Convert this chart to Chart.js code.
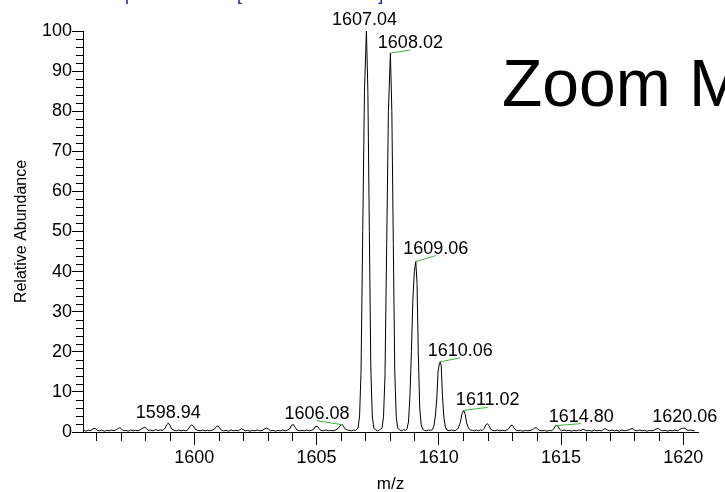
<!DOCTYPE html>
<html>
<head>
<meta charset="utf-8">
<script src="https://cdn.jsdelivr.net/npm/chart.js@4.4.1/dist/chart.umd.min.js"></script>
<style>
  html, body { margin: 0; padding: 0; background: #fff; }
  canvas { display: block; }
</style>
</head>
<body>
<canvas id="spectrumChart" width="725" height="492"></canvas>
<script>
// profile points: [m/z, relative abundance]
const spectrum = [
  [1595.50,0.4],[1595.58,0.2],[1595.66,0.5],[1595.74,0.3],[1595.82,0.6],[1595.90,0.9],[1595.96,0.8],[1596.04,0.4],
  [1596.12,0.3],[1596.22,0.5],[1596.32,0.2],[1596.42,0.4],[1596.52,0.3],[1596.62,0.5],[1596.72,0.3],[1596.82,0.6],
  [1596.90,0.9],[1596.96,1.1],[1597.02,0.8],[1597.10,0.3],[1597.20,0.4],[1597.30,0.2],[1597.40,0.5],[1597.50,0.3],
  [1597.60,0.4],[1597.70,0.3],[1597.80,0.6],[1597.90,1.0],[1597.98,1.2],[1598.04,0.9],[1598.12,0.4],[1598.22,0.5],
  [1598.32,0.3],[1598.42,0.6],[1598.52,0.4],[1598.62,0.5],[1598.72,0.4],[1598.80,0.9],[1598.87,1.8],[1598.94,2.2],
  [1599.00,1.7],[1599.07,0.8],[1599.16,0.5],[1599.26,0.3],[1599.36,0.5],[1599.46,0.3],[1599.56,0.4],[1599.66,0.3],
  [1599.74,0.6],[1599.82,1.3],[1599.89,1.8],[1599.96,1.5],[1600.04,0.7],[1600.14,0.4],[1600.24,0.3],[1600.34,0.5],
  [1600.44,0.3],[1600.54,0.4],[1600.64,0.3],[1600.74,0.5],[1600.84,0.8],[1600.91,1.4],[1600.97,1.5],[1601.03,1.1],
  [1601.10,0.5],[1601.20,0.3],[1601.30,0.4],[1601.40,0.2],[1601.50,0.5],[1601.60,0.3],[1601.70,0.4],[1601.80,0.3],
  [1601.88,0.6],[1601.94,0.8],[1602.00,0.6],[1602.08,0.3],[1602.18,0.4],[1602.28,0.2],[1602.38,0.4],[1602.48,0.3],
  [1602.58,0.5],[1602.68,0.3],[1602.78,0.4],[1602.88,0.8],[1602.96,1.0],[1603.03,0.7],[1603.12,0.3],[1603.22,0.4],
  [1603.32,0.2],[1603.42,0.4],[1603.52,0.3],[1603.62,0.5],[1603.72,0.3],[1603.82,0.5],[1603.92,0.9],[1603.98,1.7],
  [1604.06,1.8],[1604.12,1.2],[1604.20,0.5],[1604.30,0.3],[1604.40,0.4],[1604.50,0.3],[1604.60,0.5],[1604.70,0.3],
  [1604.80,0.4],[1604.90,0.8],[1604.95,1.4],[1605.04,1.4],[1605.09,0.9],[1605.18,0.4],[1605.28,0.3],[1605.38,0.5],
  [1605.48,0.3],[1605.58,0.4],[1605.68,0.3],[1605.78,0.5],[1605.88,0.9],[1605.96,1.5],[1606.04,2.0],[1606.10,1.4],
  [1606.18,0.7],[1606.26,0.5],[1606.34,0.4],[1606.44,0.3],[1606.52,0.5],[1606.60,0.4],
  // 1607.04
  [1606.70,1],[1606.76,4],[1606.82,15],[1606.89,50],[1606.96,85],[1607.04,100],[1607.10,85],[1607.16,50],
  [1607.22,16],[1607.28,4],[1607.34,1],[1607.42,0.5],[1607.50,0.3],[1607.58,0.5],
  // 1608.02
  [1607.68,1],[1607.74,3.8],[1607.80,14],[1607.87,47],[1607.94,80],[1608.02,94.5],[1608.08,80],[1608.14,47],
  [1608.20,15],[1608.26,3.8],[1608.32,1],[1608.40,0.5],[1608.48,0.3],[1608.56,0.6],[1608.64,0.4],
  // 1609.06
  [1608.70,0.8],[1608.76,2.5],[1608.82,9],[1608.88,20],[1608.94,33],[1609.00,40],[1609.06,42.5],[1609.11,37],
  [1609.16,20],[1609.22,6],[1609.28,1.8],[1609.34,0.7],[1609.42,0.4],[1609.50,0.3],[1609.58,0.5],[1609.66,0.4],
  // 1610.06
  [1609.74,0.6],[1609.80,1.5],[1609.86,4],[1609.92,8.5],[1609.97,15],[1610.02,17],[1610.06,17.5],[1610.10,16.5],
  [1610.15,9],[1610.21,3.5],[1610.27,1.2],[1610.33,0.5],[1610.42,0.3],[1610.52,0.5],[1610.62,0.3],
  // 1611.02
  [1610.72,0.5],[1610.80,1.0],[1610.88,2.4],[1610.95,4.6],[1611.02,5.4],[1611.08,4.4],[1611.14,2.2],[1611.22,0.9],
  [1611.30,0.5],[1611.38,0.4],[1611.46,0.3],[1611.54,0.5],[1611.62,0.3],[1611.70,0.5],[1611.78,0.4],[1611.86,0.9],
  [1611.93,1.8],[1611.99,2.1],[1612.05,1.6],[1612.12,0.7],[1612.20,0.4],[1612.30,0.3],[1612.40,0.5],[1612.50,0.3],
  [1612.60,0.4],[1612.70,0.3],[1612.80,0.5],[1612.88,1.0],[1612.94,1.6],[1613.00,1.7],[1613.06,1.2],[1613.14,0.5],
  [1613.24,0.3],[1613.34,0.4],[1613.44,0.2],[1613.54,0.4],[1613.64,0.3],[1613.74,0.4],[1613.84,0.6],[1613.92,1.0],
  [1613.98,1.1],[1614.04,0.8],[1614.12,0.4],[1614.22,0.3],[1614.32,0.4],[1614.42,0.2],[1614.52,0.4],[1614.62,0.3],
  [1614.70,0.8],[1614.76,1.5],[1614.82,1.6],[1614.88,1.4],[1614.94,0.7],[1615.02,0.3],[1615.12,0.5],[1615.22,0.3],
  [1615.32,0.4],[1615.42,0.2],[1615.52,0.4],[1615.62,0.3],[1615.72,0.5],[1615.82,0.4],[1615.90,0.7],[1615.98,0.5],
  [1616.06,0.3],[1616.16,0.4],[1616.26,0.2],[1616.36,0.5],[1616.46,0.3],[1616.56,0.4],[1616.66,0.3],[1616.74,0.7],
  [1616.82,0.8],[1616.90,0.5],[1616.98,0.3],[1617.08,0.5],[1617.18,0.3],[1617.28,0.4],[1617.38,0.2],[1617.48,0.5],
  [1617.58,0.3],[1617.68,0.4],[1617.78,0.5],[1617.86,0.8],[1617.94,0.8],[1618.02,0.4],[1618.12,0.3],[1618.22,0.5],
  [1618.32,0.3],[1618.42,0.4],[1618.52,0.2],[1618.62,0.4],[1618.72,0.3],[1618.82,0.5],[1618.90,0.8],[1618.98,0.9],
  [1619.06,0.5],[1619.16,0.3],[1619.26,0.4],[1619.36,0.2],[1619.46,0.4],[1619.56,0.3],[1619.66,0.5],[1619.76,0.3],
  [1619.84,0.6],[1619.92,0.9],[1619.98,0.9],[1620.06,1.0],[1620.12,0.6],[1620.20,0.4],[1620.30,0.5],[1620.40,0.3],
  [1620.46,0.4]
];

// labelled peaks
const peakMz = [1598.94, 1606.08, 1607.04, 1608.02, 1609.06, 1610.06, 1611.02, 1614.80, 1620.06];
const peakAbundance = [2.2, 1.8, 100, 94.5, 42.5, 17.5, 5.4, 1.6, 1.0];

// tick labels
const xTicks = [1600, 1605, 1610, 1615, 1620];
const yTicks = [0, 10, 20, 30, 40, 50, 60, 70, 80, 90, 100];

// where each peak label sits relative to its peak, in pixels [dx, up]
const labelShift = [[0, 5], [-26, 6], [-2, 6], [20, 5], [20, 8], [20, 6], [24, 5], [25, 4], [0, 6]];

const FONT = "Arial, 'Liberation Sans', sans-serif";
Chart.defaults.font.family = FONT;
Chart.defaults.color = '#000';

const annotate = {
  id: 'annotate',
  afterDatasetsDraw(chart) {
    const { ctx, scales: { x, y } } = chart;
    ctx.save();
    ctx.font = '18px ' + FONT;
    ctx.textAlign = 'center';
    ctx.textBaseline = 'alphabetic';
    ctx.lineWidth = 1;
    peakMz.forEach((mz, i) => {
      const px = x.getPixelForValue(mz);
      const py = y.getPixelForValue(peakAbundance[i]);
      const [dx, up] = labelShift[i];
      const tx = px + dx, ty = py - up;
      if (Math.abs(dx) > 4) {
        ctx.strokeStyle = '#3cb43c';
        ctx.beginPath();
        ctx.moveTo(px, py);
        ctx.lineTo(tx, ty + 2);
        ctx.stroke();
      }
      ctx.fillStyle = '#000';
      ctx.fillText(mz.toFixed(2), tx, ty);
    });
    ctx.restore();
  },
  afterDraw(chart) {
    const { ctx, chartArea: a, scales: { x, y } } = chart;
    ctx.save();
    // minor ticks
    ctx.strokeStyle = '#000';
    ctx.lineWidth = 1;
    ctx.beginPath();
    for (let v = Math.ceil(x.min); v <= x.max; v++) {
      if (v % 5 === 0) continue;
      const px = Math.round(x.getPixelForValue(v)) + 0.5;
      ctx.moveTo(px, a.bottom);
      ctx.lineTo(px, a.bottom + 9);
    }
    for (let v = 2; v < y.max; v += 2) {
      if (v % 10 === 0) continue;
      const py = Math.round(y.getPixelForValue(v)) + 0.5;
      ctx.moveTo(a.left - 7, py);
      ctx.lineTo(a.left, py);
    }
    ctx.stroke();

    // scan header, cut off at the top edge
    ctx.fillStyle = '#1c1cc8';
    ctx.font = '18px ' + FONT;
    ctx.textBaseline = 'alphabetic';
    ctx.textAlign = 'right';
    ctx.fillText('FTMS + p ESI Full ms ', 237, 0);
    ctx.textAlign = 'left';
    ctx.fillText('[1000.00-2000.00]', 237, 0);

    // big caption running off the right edge
    ctx.fillStyle = '#000';
    ctx.font = '66px ' + FONT;
    ctx.fillText('Zoom MS', 502, 106);
    ctx.restore();
  }
};

const ctx = document.getElementById('spectrumChart').getContext('2d');
new Chart(ctx, {
  type: 'line',
  data: {
    datasets: [{
      data: spectrum.map(p => ({ x: p[0], y: p[1] })),
      borderColor: '#000',
      borderWidth: 1,
      pointRadius: 0,
      tension: 0,
      fill: false
    }]
  },
  options: {
    responsive: false,
    animation: false,
    layout: { padding: { left: 0, top: 31, right: 27, bottom: 0 } },
    plugins: { legend: { display: false }, tooltip: { enabled: false } },
    scales: {
      x: {
        type: 'linear',
        min: 1595.45,
        max: 1620.6,
        afterBuildTicks: s => { s.ticks = xTicks.map(v => ({ value: v })); },
        afterFit: s => { s.height = 60; },
        ticks: { callback: v => String(v), padding: 2, maxRotation: 0, autoSkip: false, font: { size: 18 } },
        grid: { drawOnChartArea: false, tickLength: 13, color: '#000' },
        border: { color: '#000', width: 1 },
        title: { display: true, text: 'm/z', font: { size: 17 }, padding: { top: 0, bottom: -3 } }
      },
      y: {
        min: 0,
        max: 100,
        afterBuildTicks: s => { s.ticks = yTicks.map(v => ({ value: v })); },
        afterFit: s => { s.width = 83; },
        ticks: { callback: v => String(v), padding: 0, autoSkip: false, font: { size: 18 } },
        grid: { drawOnChartArea: false, tickLength: 11, color: '#000' },
        border: { color: '#000', width: 1 },
        title: { display: true, text: 'Relative Abundance', font: { size: 16 }, padding: { top: 12, bottom: 0 } }
      }
    }
  },
  plugins: [annotate]
});
</script>
</body>
</html>
